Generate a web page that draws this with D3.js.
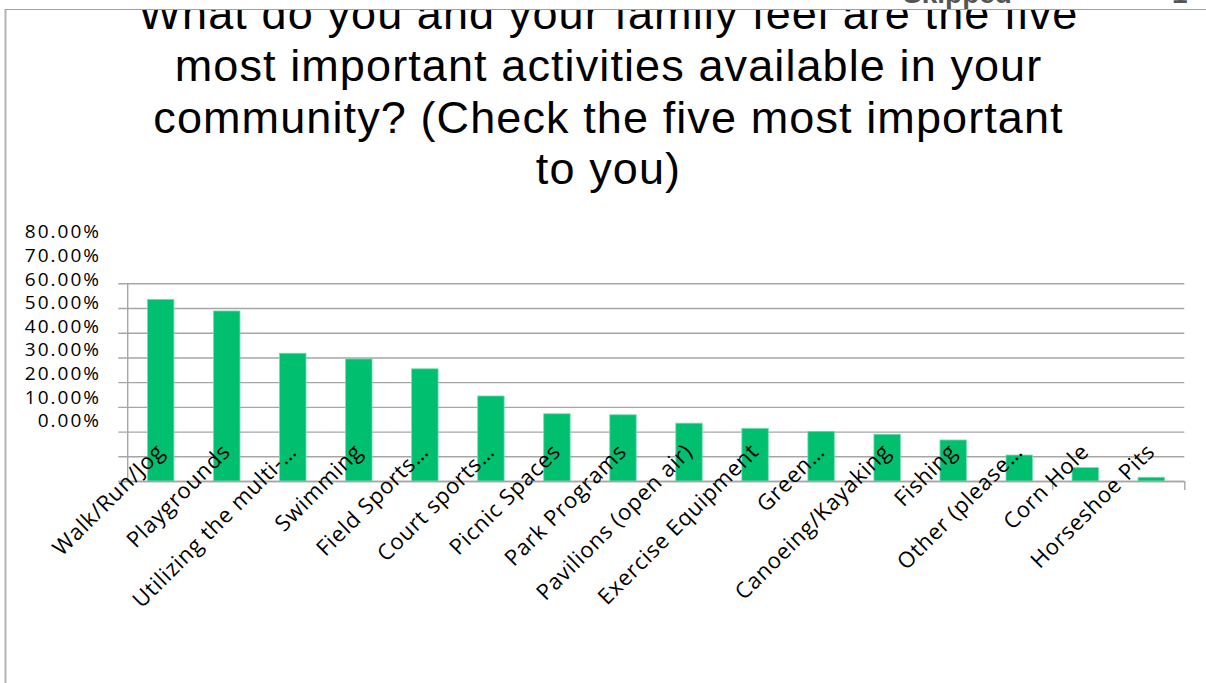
<!DOCTYPE html>
<html><head><meta charset="utf-8">
<script src="https://cdn.jsdelivr.net/npm/d3@7"></script>
<style>
html,body{margin:0;padding:0;background:#fff;overflow:hidden;}
svg{display:block;}
</style></head>
<body>
<svg id="chart" width="1206" height="683"></svg>
<script>
const titleLines = ["What do you and your family feel are the five","most important activities available in your","community? (Check the five most important","to you)"];
const categories = ["Walk/Run/Jog","Playgrounds","Utilizing the multi-…","Swimming","Field Sports…","Court sports…","Picnic Spaces","Park Programs","Pavilions (open air)","Exercise Equipment","Green…","Canoeing/Kayaking","Fishing","Other (please…","Corn Hole","Horseshoe Pits"];
const values = [0.735,0.688,0.517,0.494,0.454,0.344,0.272,0.268,0.234,0.213,0.201,0.189,0.166,0.105,0.054,0.015];
const yTicks = [0,0.1,0.2,0.3,0.4,0.5,0.6,0.7,0.8];
const visibleCategoryTicks = [14,16];
const headerTexts = ["Skipped","1"];

const svg = d3.select("#chart");
const plot = {left:127.7, right:1184.3, top:283.3, bottom:481};

// frame
svg.append("line").attr("x1",5.5).attr("x2",5.5).attr("y1",9).attr("y2",683)
  .attr("stroke","#b4b4b4").attr("stroke-width",2);
svg.append("line").attr("x1",5).attr("x2",1206).attr("y1",9.5).attr("y2",9.5)
  .attr("stroke","#a0a0a0").attr("stroke-width",1);

// header remnants above frame
svg.append("text").attr("x",903).attr("y",3).text(headerTexts[0])
  .attr("font-family","Liberation Sans, Arial, sans-serif").attr("font-weight","bold")
  .attr("font-size",28).attr("fill","#555");
svg.append("text").attr("x",1172).attr("y",3).text(headerTexts[1])
  .attr("font-family","Liberation Sans, Arial, sans-serif").attr("font-weight","bold")
  .attr("font-size",28).attr("fill","#555");

svg.append("clipPath").attr("id","clipArea").append("rect")
  .attr("x",6).attr("y",10).attr("width",1200).attr("height",673);
const area = svg.append("g").attr("clip-path","url(#clipArea)");

// title
area.append("g").selectAll("text").data(titleLines).join("text")
  .attr("x",608.5).attr("y",(d,i)=>29+i*51.8)
  .attr("text-anchor","middle")
  .attr("font-family","Liberation Sans, Arial, sans-serif")
  .attr("font-size",45).attr("letter-spacing","1.1px").attr("fill","#000")
  .text(d=>d);

const x = d3.scaleBand().domain(categories).range([plot.left,plot.right]).paddingInner(0.6).paddingOuter(0.3);
const xIdx = d3.scaleLinear().domain([0,categories.length]).range([plot.left,plot.right]);
const y = d3.scaleLinear().domain([0,0.8]).range([plot.bottom,plot.top]);
const yLabel = d3.scaleLinear().domain([0,0.8]).range([420.7,231.7]);

// gridlines
const grid = area.append("g").attr("transform",`translate(118.3,0)`)
  .call(d3.axisLeft(y).tickValues(yTicks).tickSize(-(plot.right-118.3)).tickFormat(""));
grid.select(".domain").remove();
grid.selectAll(".tick line").attr("stroke","#a6a6a6").attr("stroke-width",1.4);

// y axis line
area.append("line").attr("x1",plot.left).attr("x2",plot.left).attr("y1",plot.top).attr("y2",plot.bottom)
  .attr("stroke","#a6a6a6").attr("stroke-width",1.4);

// y tick labels (offset column as in reference)
const yl = area.append("g").attr("transform","translate(101,0)")
  .call(d3.axisLeft(yLabel).tickValues(yTicks).tickSize(0).tickPadding(0).tickFormat(d3.format(".2%")));
yl.select(".domain").remove();
yl.selectAll("text").attr("font-family","Open Sans, sans-serif").attr("font-size",19)
  .attr("letter-spacing","2px").attr("fill","#000");

// bars
area.append("g").selectAll("rect").data(values).join("rect")
  .attr("x",(d,i)=>x(categories[i]))
  .attr("width",x.bandwidth())
  .attr("y",d=>y(d))
  .attr("height",d=>y(0)-y(d))
  .attr("fill","#00bf6f").attr("stroke","#6fdcae").attr("stroke-width",0.8);

// bottom axis
const xb = area.append("g").attr("transform",`translate(0,${plot.bottom})`)
  .call(d3.axisBottom(xIdx).tickValues(visibleCategoryTicks).tickSize(9).tickFormat(""));
xb.select(".domain").attr("d",`M118.3,0.5H${plot.right}`).attr("stroke","#a6a6a6").attr("stroke-width",1.4);
xb.selectAll(".tick line").attr("stroke","#a6a6a6").attr("stroke-width",1.4);

// category labels
area.append("g").selectAll("text").data(categories).join("text")
  .attr("transform",d=>`translate(${x(d)+x.bandwidth()/2+5},453) rotate(-45)`)
  .attr("text-anchor","end")
  .attr("font-family","Open Sans, sans-serif").attr("font-size",22)
  .attr("letter-spacing","0.8px").attr("fill","#000")
  .text(d=>d);
</script>
</body></html>
